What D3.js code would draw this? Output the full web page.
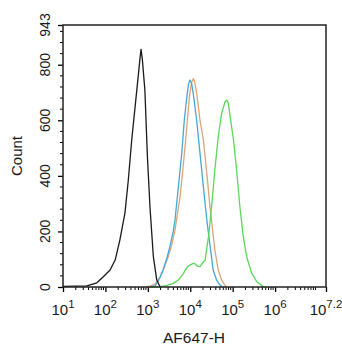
<!DOCTYPE html>
<html><head><meta charset="utf-8">
<script src="https://cdn.jsdelivr.net/npm/d3@7"></script>
<style>body{margin:0;background:#fff}svg{display:block;font-family:"Liberation Sans",Arial,sans-serif}</style>
</head><body><div id="c"></div>
<script>
// log10(AF647-H) and Count
const blackX = [1.0,1.3,1.56,1.8,1.95,2.11,2.23,2.34,2.46,2.54,2.62,2.70,2.78,2.82,2.84,2.87,2.93,2.99,3.05,3.13,3.21,3.29];
const blackY = [2,3,4,15,37,61,97,169,266,385,529,649,769,830,855,820,709,469,289,109,25,0];
const blueX = [3.05,3.17,3.21,3.29,3.36,3.46,3.52,3.60,3.64,3.72,3.80,3.86,3.92,3.96,3.99,4.03,4.07,4.15,4.23,4.31,4.35,4.39,4.47,4.54,4.62,4.70,4.76];
const blueY = [0,4,13,35,61,110,145,200,241,361,481,601,685,730,745,735,697,601,481,361,300,241,145,61,25,8,0];
const orangeX = [2.93,3.05,3.17,3.29,3.36,3.48,3.56,3.64,3.76,3.84,3.92,3.98,4.03,4.07,4.10,4.15,4.23,4.31,4.39,4.47,4.51,4.58,4.66,4.74,4.82,4.86];
const orangeY = [0,3,10,37,60,109,150,205,325,445,577,685,735,750,740,700,600,529,409,280,229,133,61,25,6,0];
const greenX = [3.05,3.29,3.45,3.60,3.72,3.84,3.92,3.99,4.07,4.11,4.17,4.23,4.31,4.35,4.39,4.43,4.47,4.51,4.58,4.66,4.74,4.82,4.86,4.90,4.94,5.02,5.10,5.17,5.25,5.33,5.45,5.57,5.72,5.80];
const greenY = [0,1,6,13,25,49,70,79,85,84,75,73,90,97,140,181,240,301,421,541,625,667,673,660,613,529,409,289,181,109,49,19,1,0];
const yTicks = [0,200,400,600,800,943];
const xTicks = [1,2,3,4,5,6,7.2];

const W=342,H=350, L=63,R=326,T=25,B=287;
const svg=d3.select("#c").append("svg").attr("width",W).attr("height",H);
const x=d3.scaleLinear().domain([1,7.2]).range([L,R]);
const y=d3.scaleLinear().domain([0,943]).range([B,T]);

// minor ticks
const xMinor=[];
for(let d=1;d<7;d++)for(let k=2;k<=9;k++){const v=d+Math.log10(k); if(v<7.2) xMinor.push(v);}
svg.append("g").selectAll("line").data(xMinor).join("line")
 .attr("x1",d=>x(d)).attr("x2",d=>x(d)).attr("y1",B).attr("y2",B+3)
 .attr("stroke","#000").attr("stroke-width",1);
const yMinor=d3.range(40,943,40).filter(v=>v%200!==0);
svg.append("g").selectAll("line").data(yMinor).join("line")
 .attr("y1",d=>y(d)).attr("y2",d=>y(d)).attr("x1",L-3).attr("x2",L)
 .attr("stroke","#000").attr("stroke-width",1);

// major ticks
const xAxis=d3.axisBottom(x).tickValues(xTicks).tickSize(5).tickFormat("");
const gx=svg.append("g").attr("transform",`translate(0,${B})`).call(xAxis);
gx.select(".domain").remove();
gx.selectAll("line").attr("stroke","#000").attr("stroke-width",1.3);
const yAxis=d3.axisLeft(y).tickValues(yTicks).tickSize(5).tickFormat("");
const gy=svg.append("g").attr("transform",`translate(${L},0)`).call(yAxis);
gy.select(".domain").remove();
gy.selectAll("line").attr("stroke","#000").attr("stroke-width",1.3);

// x labels with superscripts
xTicks.forEach(v=>{
  const t=svg.append("text").attr("x",x(v)).attr("y",315).attr("text-anchor","middle")
   .attr("font-size",15).attr("fill","#1a1a1a");
  t.append("tspan").text("10");
  t.append("tspan").attr("dy",-7).attr("font-size",11.5).text(String(v));
});
// y labels rotated
yTicks.forEach(v=>{
  svg.append("text").attr("transform",`translate(50,${y(v)}) rotate(-90)`)
   .attr("text-anchor","middle").attr("font-size",14).attr("fill","#1a1a1a").text(String(v));
});
svg.append("text").attr("transform",`translate(22,${(T+B)/2}) rotate(-90)`)
 .attr("text-anchor","middle").attr("font-size",15).attr("fill","#1a1a1a").text("Count");
svg.append("text").attr("x",194).attr("y",343).attr("text-anchor","middle")
 .attr("font-size",15.5).attr("fill","#1a1a1a").text("AF647-H");

// curves
const line=d3.line().x(d=>x(d[0])).y(d=>y(d[1]));
const series=[
 [orangeX,orangeY,"#d9a57a"],
 [blueX,blueY,"#45a8d4"],
 [greenX,greenY,"#5cd65c"],
 [blackX,blackY,"#1a1a1a"]
];
series.forEach(([xs,ys,c])=>{
  svg.append("path").datum(xs.map((v,i)=>[v,ys[i]])).attr("d",line)
   .attr("fill","none").attr("stroke",c).attr("stroke-width",1.3).attr("stroke-linejoin","round");
});

// frame
svg.append("rect").attr("x",L).attr("y",T).attr("width",R-L).attr("height",B-T)
 .attr("fill","none").attr("stroke","#222").attr("stroke-width",1.5);
</script></body></html>
